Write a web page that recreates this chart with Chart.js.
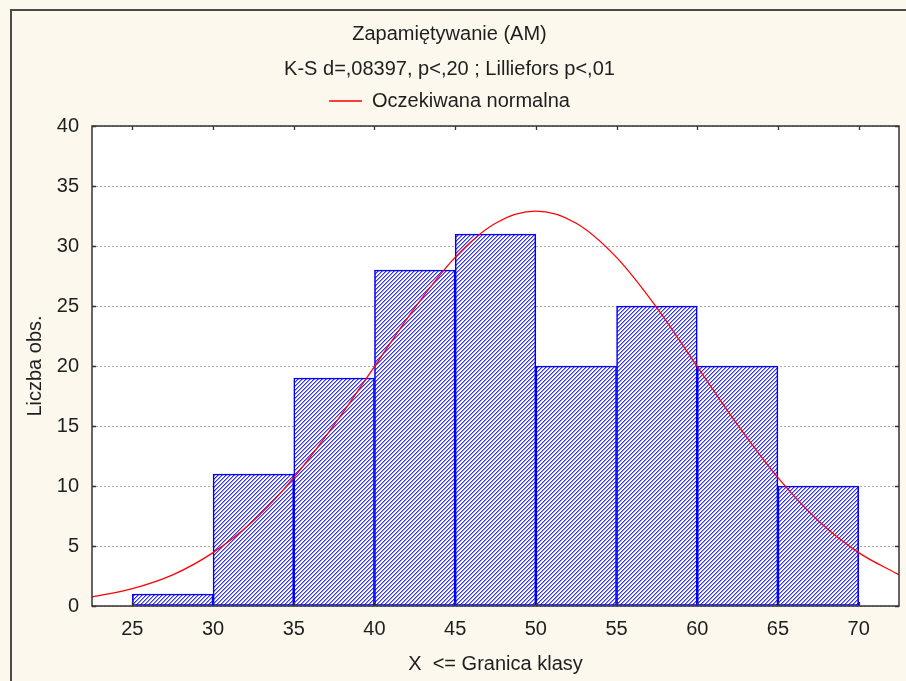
<!DOCTYPE html>
<html><head><meta charset="utf-8">
<script src="https://cdn.jsdelivr.net/npm/chart.js@4.4.1/dist/chart.umd.min.js"></script>
<style>html,body{margin:0;padding:0;background:#fdf8ee;}canvas{display:block}</style>
</head><body><canvas id="c" width="906" height="681"></canvas>
<script>
// Histogram bins (class centers) and counts
const binCenters = [27.5, 32.5, 37.5, 42.5, 47.5, 52.5, 57.5, 62.5, 67.5];
const counts = [1, 11, 19, 28, 31, 20, 25, 20, 10];
// Expected normal curve
const curveX = [22.5, 25, 27.5, 30, 32.5, 35, 37.5, 40, 42.5, 45, 47.5, 50, 52.5, 55, 57.5, 60, 62.5, 65, 67.5, 70, 72.5];
const curveY = [0.75, 1.45, 2.6, 4.45, 7.1, 10.7, 15.1, 19.95, 24.85, 29.05, 31.9, 32.9, 31.9, 29.05, 24.85, 19.95, 15.1, 10.7, 7.1, 4.45, 2.6];
const xTicks = [25, 30, 35, 40, 45, 50, 55, 60, 65, 70];
const yTicks = [0, 5, 10, 15, 20, 25, 30, 35, 40];
const titleText = 'Zapamiętywanie (AM)';
const subtitleText = 'K-S d=,08397, p<,20 ; Lilliefors p<,01';
const legendText = 'Oczekiwana normalna';
const xTitle = 'X  <= Granica klasy';
const yTitle = 'Liczba obs.';

const FONT = "'Liberation Sans', Arial, sans-serif";
const TXT = '#1e1e1e';
const FS = 20;
Chart.defaults.font.family = FONT;
Chart.defaults.color = TXT;

function hatch() {
  const s = 4, c = document.createElement('canvas');
  c.width = s; c.height = s;
  const g = c.getContext('2d');
  const img = g.createImageData(s, s);
  for (let y = 0; y < s; y++) for (let x = 0; x < s; x++) {
    const d = (x + y) % s;
    const i = (y * s + x) * 4;
    let col = [255, 255, 255];
    if (d === 0) col = [50, 50, 255];
    else if (d === 1) col = [150, 150, 255];
    img.data[i] = col[0]; img.data[i+1] = col[1]; img.data[i+2] = col[2];
    img.data[i+3] = 255;
  }
  g.putImageData(img, 0, 0);
  return g.createPattern(c, 'repeat');
}

// small spacer between legend and plot area
const spacer = {
  id: 'spacer',
  beforeInit(chart) {
    const box = {
      position: 'top', weight: 0, fullSize: true, options: {},
      left: 0, top: 0, right: 0, bottom: 0, width: 0, height: 0,
      update(maxWidth) { this.width = maxWidth; this.height = 5; },
      isHorizontal() { return true; },
      draw() {}
    };
    Chart.layouts.addBox(chart, box);
  }
};

const frame = {
  id: 'frame',
  beforeDraw(chart) {
    const {ctx, chartArea: a} = chart;
    ctx.save();
    ctx.fillStyle = '#fdf8ee';
    ctx.fillRect(0, 0, chart.width, chart.height);
    ctx.fillStyle = '#ffffff';
    ctx.fillRect(a.left, a.top, a.right - a.left, a.bottom - a.top);
    ctx.strokeStyle = '#4a4a4a'; ctx.lineWidth = 2;
    ctx.beginPath();
    ctx.moveTo(11, chart.height + 2); ctx.lineTo(11, 10); ctx.lineTo(chart.width + 2, 10);
    ctx.stroke();
    ctx.restore();
  },
  afterDraw(chart) {
    const {ctx, chartArea: a, scales} = chart;
    ctx.save();
    ctx.strokeStyle = '#333'; ctx.lineWidth = 1.5;
    ctx.strokeRect(a.left, a.top, a.right - a.left, a.bottom - a.top);
    ctx.lineWidth = 1.3;
    ctx.beginPath();
    const L = 4;
    xTicks.forEach(v => {
      const x = Math.round(scales.x.getPixelForValue(v)) + 0.5;
      ctx.moveTo(x, a.top); ctx.lineTo(x, a.top + L);
      ctx.moveTo(x, a.bottom); ctx.lineTo(x, a.bottom - L);
    });
    yTicks.forEach(v => {
      const y = Math.round(scales.y.getPixelForValue(v)) + 0.5;
      ctx.moveTo(a.left, y); ctx.lineTo(a.left + L, y);
      ctx.moveTo(a.right, y); ctx.lineTo(a.right - L, y);
    });
    ctx.stroke();
    ctx.restore();
  }
};

new Chart(document.getElementById('c'), {
  data: {
    datasets: [
      {
        type: 'line', label: legendText, order: 0,
        data: curveX.map((x, i) => ({x, y: curveY[i]})),
        borderColor: '#ff0000', backgroundColor: '#ff0000', borderWidth: 1.3,
        pointRadius: 0, cubicInterpolationMode: 'monotone', fill: false
      },
      {
        type: 'bar', label: 'hist', order: 1,
        data: binCenters.map((x, i) => ({x, y: counts[i]})),
        backgroundColor: hatch(), borderColor: '#0000ff', borderWidth: 1.6,
        barPercentage: 1, categoryPercentage: 1, borderSkipped: false
      }
    ]
  },
  options: {
    responsive: false, animation: false, devicePixelRatio: 1,
    layout: {padding: {left: 0, right: 7, top: 0, bottom: 0}},
    plugins: {
      tooltip: {enabled: false},
      title: {display: true, text: titleText, color: TXT, font: {size: FS, weight: 'normal'}, padding: {top: 22, bottom: 0}},
      subtitle: {display: true, text: subtitleText, color: TXT, font: {size: FS, weight: 'normal'}, padding: {top: 11, bottom: 0}},
      legend: {
        display: true, position: 'top',
        labels: {
          filter: it => it.text === legendText,
          usePointStyle: true, pointStyle: 'line', pointStyleWidth: 33,
          color: TXT, font: {size: FS}, padding: 10
        }
      }
    },
    scales: {
      x: {
        type: 'linear', min: 22.5, max: 72.5, offset: false,
        afterBuildTicks: s => { s.ticks = xTicks.map(v => ({value: v})); },
        afterFit: s => { s.height = 75; },
        grid: {display: false, drawTicks: false},
        border: {display: false},
        ticks: {color: TXT, font: {size: FS}, padding: 11, maxRotation: 0},
        title: {display: true, text: xTitle, color: TXT, font: {size: FS}, padding: {top: 0, bottom: 5}}
      },
      y: {
        type: 'linear', min: 0, max: 40,
        afterBuildTicks: s => { s.ticks = yTicks.map(v => ({value: v})); },
        afterFit: s => { s.width = 92; },
        grid: {color: '#ababab', lineWidth: 1, drawTicks: false, tickLength: 0},
        border: {display: false, dash: [2, 2]},
        ticks: {color: TXT, font: {size: FS}, padding: 13},
        title: {display: true, text: yTitle, color: TXT, font: {size: FS}, padding: {top: 23, bottom: 0}}
      }
    }
  },
  plugins: [spacer, frame]
});
</script>
</body></html>
